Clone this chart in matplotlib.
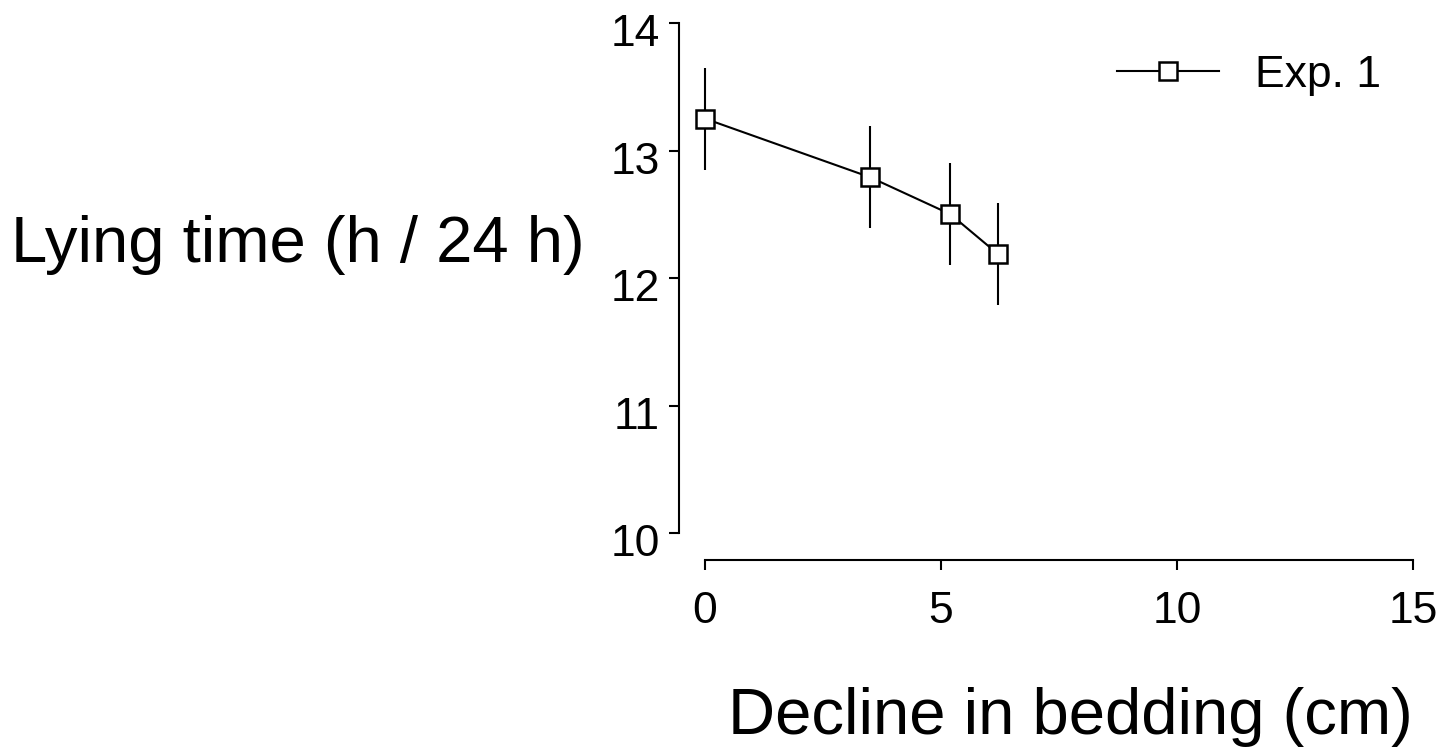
import matplotlib
matplotlib.use("Agg")
import matplotlib.pyplot as plt
from matplotlib.transforms import ScaledTranslation

plt.rcParams['font.family'] = ['Liberation Sans', 'DejaVu Sans']

# данные
decline = [0, 3.5, 5.2, 6.2]
lying = [13.25, 12.79, 12.50, 12.19]
err = [0.4, 0.4, 0.4, 0.4]
xticks = [0, 5, 10, 15]
yticks = [10, 11, 12, 13, 14]

W, H = 1443, 747
fig = plt.figure(figsize=(W / 100, H / 100), dpi=100)
ax = fig.add_axes([679 / W, 1 - 560 / H, (1413 - 679) / W, (560 - 23) / H])

ax.errorbar(decline, lying, yerr=err, fmt='none', ecolor='black', elinewidth=1.5, capsize=0, zorder=2)
ax.plot(decline, lying, '-s', color='black', lw=1.5, markersize=13, markerfacecolor='white',
        markeredgecolor='black', markeredgewidth=1.8, label='Exp. 1', zorder=3)

ax.set_xlim(-26 / 47.2, 15)
ax.set_ylim(10 - 27 / 127.5, 14)
ax.set_xticks(xticks)
ax.set_yticks(yticks)

for s in ['top', 'right']:
    ax.spines[s].set_visible(False)
ax.spines['bottom'].set_bounds(0, 15)
ax.spines['left'].set_bounds(10, 14)
for s in ['bottom', 'left']:
    ax.spines[s].set_linewidth(1.5)

ax.tick_params(axis='both', direction='out', width=1.5, labelsize=32, colors='black')
ax.tick_params(axis='y', length=7, pad=7)
ax.tick_params(axis='x', length=7, pad=15)

# подписи оси y чуть ниже делений
shift = ScaledTranslation(0, -7 / 100, fig.dpi_scale_trans)
for lab in ax.get_yticklabels():
    lab.set_transform(lab.get_transform() + shift)

ax.set_ylabel('Lying time (h / 24 h)', fontsize=47, rotation=0, ha='right', va='center')
ax.yaxis.set_label_coords(-0.128, 0.587)
ax.set_xlabel('Decline in bedding (cm)', fontsize=47, va='center')
ax.xaxis.set_label_coords(0.533, -0.293)

ax.legend(loc='center left', bbox_to_anchor=(1117 / W, 1 - 75 / H), bbox_transform=fig.transFigure,
          frameon=False, fontsize=32, handlelength=2.3, handletextpad=0.8, borderpad=0, borderaxespad=0)

fig.savefig('out.png', dpi=100)
